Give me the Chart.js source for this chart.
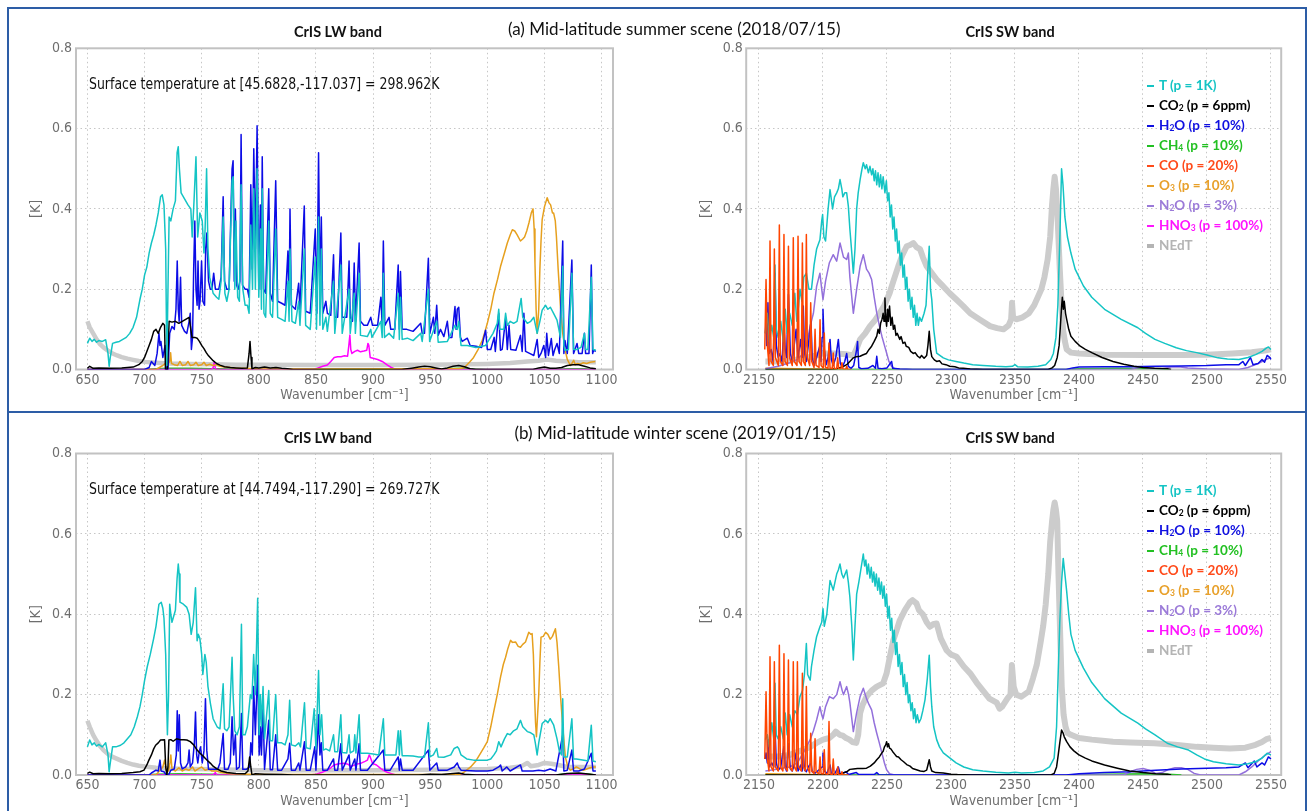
<!DOCTYPE html>
<html><head><meta charset="utf-8">
<script src="https://cdn.jsdelivr.net/npm/chart.js@4.4.1/dist/chart.umd.min.js"></script>
<style>
body{margin:0;background:#fff;width:1312px;height:811px;overflow:hidden;position:relative;font-family:'Liberation Sans',sans-serif}
.box{position:absolute;border:2px solid #2d5da6;box-sizing:border-box}
canvas{position:absolute}
.t{position:absolute;white-space:nowrap}
.ttl{font-family:Lato,'Open Sans',sans-serif;font-size:17px;color:#111;line-height:20px}
.band{font-family:Lato,'Open Sans',sans-serif;font-weight:bold;font-size:14.5px;color:#111;line-height:18px}
.ann{font-family:'Liberation Sans Narrow','DejaVu Sans Condensed','Liberation Sans',sans-serif;font-size:15px;color:#111;line-height:18px;transform:scaleX(0.926);transform-origin:0 50%}
.lg{font-family:Lato,'Open Sans',sans-serif;font-weight:bold;font-size:13.5px;line-height:20px}
.lg sub{font-size:8.5px;vertical-align:-1px;line-height:0}
.mk{display:inline-block;width:7px;height:2px;vertical-align:middle;margin-right:5px;position:relative;top:-1px}
</style>
</head><body>
<div class="box" style="left:7px;top:7px;width:1300px;height:406px"></div>
<div class="box" style="left:7px;top:411px;width:1300px;height:420px"></div>
<canvas id="c1" width="656" height="411" style="left:0;top:0"></canvas>
<canvas id="c2" width="650" height="411" style="left:656px;top:0"></canvas>
<canvas id="c3" width="656" height="400" style="left:0;top:411px"></canvas>
<canvas id="c4" width="650" height="400" style="left:656px;top:411px"></canvas>
<div id="txt"></div>
<script>
// ---------- categories / labels ----------
const seriesNames = ['T','CO2','H2O','CH4','CO','O3','N2O','HNO3','NEdT'];
const legendLabels = ['T (p = 1K)','CO<sub>2</sub> (p = 6ppm)','H<sub>2</sub>O (p = 10%)','CH<sub>4</sub> (p = 10%)','CO (p = 20%)','O<sub>3</sub> (p = 10%)','N<sub>2</sub>O (p = 3%)','HNO<sub>3</sub> (p = 100%)','NEdT'];
const seriesColors = ['#14c4c4','#000000','#0c0ce6','#2fbf2f','#ff4500','#e6a01e','#9370db','#ff00ff','#cccccc'];
const legendColors = ['#14c4c4','#000000','#1010e0','#22c022','#ff4a1a','#e8a02a','#9b7ad8','#ff14ff','#b4b4b4'];
const drawOrder = [1,2,3,7,0,5,4,6,8];
const lwTicks = [650,700,750,800,850,900,950,1000,1050,1100];
const swTicks = [2150,2200,2250,2300,2350,2400,2450,2500,2550];
const yTicks = [0,0.2,0.4,0.6,0.8];
const panelTitles = ['(a) Mid-latitude summer scene (2018/07/15)','(b) Mid-latitude winter scene (2019/01/15)'];
const surfaceNotes = ['Surface temperature at [45.6828,-117.037] = 298.962K','Surface temperature at [44.7494,-117.290] = 269.727K'];

// ---------- (a) summer, LW band ----------
const sLW_T = [[650,.065],[652,.078],[654,.07],[656,.075],[658,.068],[660,.072],[663,.07],[666,.074],[668,.04],[669,.008],[670,.03],[672,.065],[675,.068],[678,.07],[681,.075],[684,.08],[687,.09],[690,.105],[693,.13],[696,.175],[698,.2],[700,.235],[702,.255],[704,.29],[706,.315],[708,.335],[710,.36],[712,.39],[714,.43],[715.5,.435],[717,.41],[718.5,.3],[719.5,.01],[720.5,.2],[721.5,.38],[723,.37],[725,.4],[727,.42],[728.5,.54],[729.5,.555],[730.5,.5],[732,.44],[735,.425],[738,.41],[740.5,.4],[741.7,.33],[743.3,.42],[745,.53],[746.5,.33],[748.4,.39],[750.5,.37],[752,.29],[753,.35],[754.3,.5],[755.5,.3],[757,.23],[760,.19],[763,.18],[765,.175],[767,.22],[768.8,.38],[770.3,.19],[772,.17],[774,.2],[776.6,.47],[777.5,.48],[779,.2],[780,.37],[781.5,.18],[783,.17],[784.5,.46],[786,.2],[788,.16],[790,.16],[791.5,.14],[793,.36],[794.5,.2],[795.6,.45],[797,.2],[798.5,.5],[800,.18],[801.4,.35],[802.3,.15],[803,.45],[804.5,.14],[806,.13],[808.7,.37],[810,.14],[812,.13],[814.8,.35],[816.5,.13],[820,.125],[823,.12],[825.5,.22],[826.5,.12],[827.3,.3],[829,.12],[832,.115],[834.9,.17],[836,.11],[839.8,.3],[841,.11],[845,.1],[849.4,.28],[850.5,.1],[852.3,.38],[853.5,.11],[854.7,.3],[856,.1],[858.7,.13],[860,.095],[865.4,.22],[866.5,.09],[871.8,.26],[873,.09],[879,.2],[880,.09],[883.5,.19],[884.5,.09],[887.8,.24],[889,.085],[895,.082],[898,.1],[899,.08],[906.8,.12],[908,.08],[909,.24],[910,.08],[914,.09],[918,.078],[922,.19],[923,.075],[924,.18],[925.5,.075],[930,.078],[935,.072],[941.7,.09],[943,.07],[948.4,.2],[949.5,.07],[955.7,.12],[957,.068],[965,.07],[971.7,.11],[973.7,.1],[975,.12],[977,.06],[982.5,.06],[990,.055],[998.5,.06],[1002.8,.08],[1005,.09],[1008.7,.115],[1010,.15],[1011,.1],[1014.5,.1],[1016,.14],[1017.5,.11],[1020,.12],[1023,.115],[1026,.12],[1029.6,.177],[1031,.13],[1035,.115],[1038,.12],[1040.7,.13],[1043.6,.09],[1046,.12],[1048,.148],[1051,.16],[1053,.15],[1055.2,.155],[1058,.14],[1061,.123],[1064,.08],[1066,.257],[1067,.06],[1068,.048],[1071,.05],[1074,.24],[1075.5,.05],[1078.5,.05],[1082,.055],[1085,.09],[1086,.05],[1088,.05],[1091,.23],[1092.5,.05],[1095,.048]];
const sLW_CO2 = [[650,.003],[652,.008],[655,.003],[660,.004],[670,.003],[680,.004],[690,.006],[695,.012],[698,.02],[700,.03],[702,.045],[704,.06],[706,.075],[708,.095],[710,.1],[712,.09],[714,.105],[716,.115],[717.5,.11],[718.3,0],[720,0],[721.5,.12],[724,.118],[727,.12],[730,.115],[733,.12],[736,.125],[739,.13],[740.5,.1],[741.5,.08],[744,.08],[746,.078],[748,.07],[750,.06],[752,.052],[754,.042],[756,.034],[758,.028],[760,.022],[763,.015],[766,.011],[770,.007],[775,.005],[780,.004],[785,.003],[790,.004],[791.5,.04],[792.3,.07],[793.2,.03],[794,.002],[797,.005],[800,.004],[805,.006],[810,.004],[815,.005],[820,.003],[825,.002],[830,0],[925,0],[930,.002],[935,.004],[940,.006],[945,.008],[950,.007],[955,.004],[960,.001],[965,.004],[970,.008],[975,.01],[980,.007],[985,.002],[990,0],[1040,0],[1045,.004],[1050,.006],[1055,.003],[1060,.003],[1065,.005],[1070,.01],[1075,.012],[1080,.012],[1085,.008],[1090,.004],[1095,.002]];
const sLW_H2O = [[650,0],[700,0],[704,.005],[706,.02],[709,.01],[711,.04],[712.6,.09],[713.5,.06],[714.3,.07],[716,.03],[718,.06],[719,0],[720.5,0],[722,.09],[724,.107],[726,.1],[727.5,.15],[728.6,.27],[729.5,.15],[730.3,.12],[731.5,.23],[732.5,.11],[735,.095],[737,.09],[739,.12],[740,.14],[741,.05],[742,.08],[743,.25],[744,.37],[745,.2],[746,.16],[746.8,.27],[747.7,.15],[748.6,.17],[749.9,.27],[751,.17],[752.5,.16],[753.5,.3],[754.5,.34],[756,.22],[757.5,.2],[759,.2],[760.5,.24],[762,.2],[765,.2],[767,.23],[768.8,.43],[770,.22],[772,.2],[774,.2],[775.5,.38],[776.6,.5],[777.5,.52],[778.5,.22],[779.5,.4],[780.5,.21],[782,.2],[783.5,.22],[784.5,.585],[785.7,.21],[788,.2],[790,.2],[791.5,.18],[793,.46],[794.3,.25],[795.6,.55],[797,.3],[798.5,.607],[800,.2],[801.4,.41],[802.2,.2],[803,.53],[804.2,.2],[806,.19],[808.7,.45],[810,.19],[812,.17],[814.8,.47],[816.5,.17],[820,.165],[823,.16],[825.5,.295],[826.5,.16],[827.3,.4],[828.5,.16],[832,.15],[834.9,.215],[836,.15],[839.8,.407],[841,.145],[845,.14],[849.4,.35],[850.8,.14],[852.3,.54],[853.5,.2],[854.7,.38],[856,.14],[858.7,.17],[860,.14],[863,.135],[865.4,.286],[866.5,.13],[869,.13],[871.8,.34],[873,.13],[877,.13],[879,.27],[880,.13],[882,.12],[883.5,.265],[884.7,.12],[887.8,.315],[889,.12],[892,.11],[895,.11],[898,.13],[899.5,.11],[904,.11],[906.8,.18],[908,.11],[909,.32],[910.3,.11],[914,.13],[915.5,.1],[919,.1],[922,.26],[923,.1],[924,.244],[925.5,.1],[929.5,.1],[935,.095],[941.7,.115],[943,.09],[945,.09],[948.4,.277],[949.7,.09],[952.8,.13],[954,.09],[955.7,.16],[957,.085],[959,.1],[962,.082],[965,.12],[966.5,.08],[969,.08],[971.7,.157],[972.7,.1],[973.7,.15],[975,.155],[976.5,.08],[978,.07],[982.5,.078],[985,.06],[990,.058],[995,.055],[998.5,.098],[1000,.05],[1003,.05],[1006,.08],[1007,.045],[1010,.14],[1011.5,.048],[1013,.05],[1016,.127],[1017.5,.05],[1019,.11],[1020.5,.05],[1025,.048],[1029,.085],[1030.5,.045],[1032,.14],[1033.5,.045],[1037,.04],[1040.7,.035],[1043.6,.075],[1045,.03],[1047,.04],[1049.4,.06],[1051,.03],[1052,.09],[1053.5,.035],[1056,.077],[1057.5,.035],[1059,.05],[1061,.065],[1063,.04],[1066,.32],[1067,.04],[1068,.072],[1070,.04],[1074,.273],[1075.5,.04],[1078.5,.065],[1080,.04],[1083,.04],[1085,.09],[1086,.04],[1089,.04],[1091,.26],[1092.2,.04],[1093,.048],[1095,.045]];
const sLW_CH4 = [[650,0],[700,0],[710,.002],[720,.003],[740,.003],[760,.002],[780,.001],[800,0],[950,0],[960,.002],[975,.003],[990,.001],[1000,0],[1060,0],[1070,.002],[1085,.002],[1095,0]];
const sLW_CO = [];
const sLW_O3 = [[650,0],[710,0],[713,.005],[716,.01],[718,.015],[720,.012],[722,.02],[722.8,.042],[723.6,.015],[726,.012],[729,.01],[731,.02],[733,.01],[736,.012],[738,.02],[740,.01],[743,.012],[745,.018],[747,.01],[750,.012],[752,.018],[754,.01],[757,.013],[760,.01],[763,.012],[766,.008],[770,.006],[780,.004],[800,.002],[850,.001],[950,.002],[975,.002],[980,.005],[985,.02],[988,.03],[992,.05],[995.6,.073],[998,.095],[1000,.115],[1003,.15],[1005.8,.19],[1009,.225],[1011.6,.257],[1015,.29],[1017.5,.315],[1020,.335],[1021.9,.348],[1024,.345],[1026,.336],[1029,.32],[1031,.325],[1032.6,.33],[1034.5,.345],[1036.4,.365],[1038.5,.39],[1040,.4],[1041,.35],[1041.7,.265],[1042.7,.15],[1043.7,.09],[1045,.15],[1046,.25],[1047,.32],[1048,.373],[1050,.405],[1052.4,.428],[1054,.415],[1055.4,.41],[1057,.39],[1058,.39],[1059.5,.37],[1060.5,.33],[1062,.25],[1064,.157],[1066,.09],[1068,.05],[1070,.025],[1072.7,.01],[1074,.015],[1075.6,.023],[1077,.012],[1079,.015],[1081.4,.013],[1084,.017],[1087,.015],[1090,.018],[1094.5,.02]];
const sLW_N2O = [];
const sLW_HNO3 = [[650,0],[758,0],[760,.004],[761,.018],[762,.002],[764,0],[848,0],[852,.004],[856,.008],[860,.011],[863,.02],[866,.03],[869,.032],[872,.032],[875,.034],[877.7,.033],[878.8,.06],[879.7,.086],[880.5,.05],[881.5,.04],[884,.045],[886.4,.048],[889,.044],[892,.046],[894.5,.048],[895.5,.065],[896.3,.06],[897.5,.03],[900,.028],[904,.025],[908,.02],[912.6,.011],[916,.005],[920,0],[1095,0]];
const sLW_NEdT = [[650,.12],[652,.105],[655,.09],[658,.075],[661,.063],[664,.055],[668,.047],[672,.04],[676,.035],[680,.031],[685,.027],[690,.024],[695,.021],[700,.019],[710,.017],[720,.015],[740,.014],[760,.013],[780,.012],[800,.012],[850,.011],[900,.011],[950,.012],[1000,.014],[1020,.016],[1035,.02],[1045,.022],[1052,.025],[1060,.022],[1070,.02],[1080,.018],[1095,.018]];

// ---------- (b) winter, LW band ----------
const wLW_T = [[650,.07],[652,.087],[654,.075],[656,.08],[658,.072],[660,.076],[663,.07],[666,.08],[668,.05],[669,.008],[670,.03],[672,.07],[675,.07],[679,.074],[682,.08],[685,.09],[688,.1],[691,.12],[693.7,.145],[696,.17],[698,.2],[700,.235],[702.4,.27],[705,.3],[708,.34],[710,.37],[712.6,.425],[714.6,.43],[716,.415],[717,.39],[718.5,.3],[720,.1],[721,.2],[722,.425],[723,.4],[724,.38],[727,.41],[728.5,.49],[729.5,.525],[730.3,.5],[731,.43],[734,.425],[737,.417],[739,.4],[740.8,.35],[742.6,.38],[743.5,.42],[744.6,.466],[746,.334],[747,.35],[748.4,.34],[750,.3],[751,.25],[752.8,.3],[754,.28],[755.5,.22],[757.7,.177],[760,.14],[763.5,.12],[766,.115],[768.8,.227],[770,.115],[772,.11],[774,.12],[776.6,.293],[777.5,.2],[779,.11],[781,.1],[783,.12],[784.8,.375],[786,.1],[788,.1],[790,.12],[792.6,.2],[794,.19],[795.5,.3],[797,.2],[799,.44],[800.3,.1],[801.4,.2],[802.3,.12],[803.7,.22],[805,.09],[808.7,.21],[810,.085],[812,.085],[814.8,.2],[816.5,.08],[820,.08],[823,.075],[825.5,.1],[827,.186],[828.5,.075],[832,.072],[835,.08],[836.5,.07],[840,.18],[841.5,.068],[845,.065],[848.5,.165],[850,.065],[852.3,.26],[853.5,.1],[855,.15],[856.5,.062],[858.7,.065],[862,.06],[865.4,.1],[866.5,.058],[869,.058],[871.8,.15],[873,.056],[877,.055],[879,.1],[880,.055],[883,.06],[884,.1],[885,.055],[887.8,.15],[889,.054],[895,.054],[900,.052],[905,.05],[909,.14],[910.3,.05],[915,.05],[920,.05],[922,.11],[923,.05],[924,.11],[925.5,.048],[930,.048],[935,.047],[940,.045],[945,.045],[948.4,.13],[949.7,.045],[952.8,.05],[955.7,.066],[957,.045],[962,.044],[968,.05],[971,.066],[973.7,.07],[975,.066],[977,.05],[982,.04],[988,.037],[995,.037],[1000,.037],[1003,.04],[1005.8,.05],[1008,.06],[1010,.083],[1012,.07],[1015,.09],[1017.5,.103],[1020,.1],[1023,.11],[1026,.115],[1029,.136],[1031,.12],[1035,.108],[1038,.105],[1040.7,.1],[1042,.08],[1043.6,.05],[1045,.08],[1048,.128],[1051,.136],[1053,.13],[1055,.14],[1058,.125],[1061,.09],[1063,.06],[1065,.05],[1066,.19],[1067,.045],[1070,.045],[1074,.14],[1075.5,.04],[1078,.04],[1082,.038],[1086,.036],[1088,.035],[1091,.124],[1092.5,.035],[1095,.033]];
const wLW_CO2 = [[650,.004],[652,.007],[655,.003],[660,.004],[670,.003],[680,.004],[690,.006],[696,.008],[699.5,.012],[702,.025],[703.8,.037],[706,.05],[708,.065],[709.7,.074],[712,.08],[714,.087],[717.5,.088],[718.5,.02],[719.5,0],[720.5,.02],[721.3,.087],[723,.088],[725,.084],[728,.09],[731,.088],[734.4,.088],[737,.087],[740,.083],[743,.075],[746,.062],[749,.053],[752,.045],[755,.036],[757.7,.029],[760,.022],[763,.016],[767,.01],[772,.006],[780,.004],[788,.003],[790.5,.01],[792,.045],[793,.02],[794,0],[797,.003],[805,.002],[820,.001],[830,0],[940,0],[950,.002],[960,.001],[970,.004],[975,.005],[980,.002],[990,0],[1060,0],[1070,.004],[1080,.005],[1090,.002],[1095,0]];
const wLW_H2O = [[650,0],[704,0],[706,.005],[710,.012],[712,.01],[713.5,.037],[714.5,.01],[717,.008],[719,0],[721,0],[723,.012],[726,.015],[727.8,.05],[728.6,.16],[729.5,.06],[730.4,.15],[731.5,.03],[733,.015],[736,.02],[738,.03],[739,.062],[740,.02],[742,.03],[743.6,.08],[744.6,.157],[745.6,.05],[746.6,.03],[748,.06],[749,.07],[750.5,.03],[752,.06],[753.3,.19],[754.5,.06],[756,.014],[760,.014],[764,.014],[766,.03],[768.8,.103],[770,.014],[773,.014],[775,.03],[776.6,.145],[778,.05],[779.5,.1],[780.5,.014],[783,.02],[784.8,.153],[786,.014],[789,.014],[792,.02],[793,.08],[794.3,.05],[795.5,.22],[797,.1],[799,.273],[800.3,.05],[801.4,.12],[802.3,.05],[803.7,.178],[805,.014],[808.7,.136],[810,.013],[812,.013],[814.8,.1],[816.5,.012],[820,.012],[825.5,.04],[827,.079],[828.5,.012],[832,.012],[834.9,.03],[836,.012],[840,.083],[841.5,.012],[845,.012],[849,.07],[850,.012],[852.3,.15],[853.5,.05],[854.7,.08],[856,.012],[860,.012],[865.4,.04],[866.5,.012],[869,.012],[871.8,.078],[873,.012],[879,.05],[880,.012],[884,.04],[885,.012],[887.8,.078],[889,.012],[895,.012],[909,.062],[910.3,.012],[915,.012],[922,.045],[923,.012],[924,.04],[925.5,.012],[935,.012],[948.4,.062],[949.7,.012],[955.7,.03],[957,.012],[965,.012],[971,.02],[973.7,.03],[975,.02],[977,.012],[990,.01],[1000,.01],[1005,.012],[1010,.02],[1011.6,.025],[1013,.01],[1017,.02],[1020,.01],[1029,.025],[1030.5,.01],[1040,.01],[1045,.012],[1050,.01],[1055,.015],[1060,.01],[1066,.1],[1067,.01],[1070,.012],[1074,.062],[1075.5,.01],[1080,.01],[1085,.015],[1091,.054],[1092.5,.01],[1095,.01]];
const wLW_CH4 = [[650,0],[700,0],[710,.002],[730,.003],[760,.002],[780,0],[1060,0],[1070,.003],[1085,.003],[1095,0]];
const wLW_CO = [];
const wLW_O3 = [[650,0],[710,0],[713,.01],[716,.02],[717.5,.037],[719,.015],[721,.01],[722.2,.03],[723,.05],[724,.015],[727,.01],[730,.018],[733,.01],[736,.015],[739,.012],[742,.02],[744,.01],[747,.015],[750,.02],[753,.012],[756,.015],[759,.01],[763,.01],[767,.006],[775,.003],[800,.001],[970,.001],[976.6,.002],[980,.008],[985.4,.02],[990,.035],[994,.054],[997,.068],[1000,.083],[1003,.12],[1005.8,.16],[1008.7,.2],[1011.6,.244],[1014,.275],[1016,.293],[1018,.315],[1020.3,.335],[1022,.33],[1024.7,.331],[1027,.32],[1029,.318],[1031,.325],[1033.4,.331],[1036.3,.355],[1038,.35],[1039.2,.352],[1040.3,.3],[1041.3,.2],[1042.2,.13],[1043,.095],[1044,.15],[1045,.2],[1046,.28],[1047,.343],[1049,.345],[1051,.355],[1053,.35],[1055,.338],[1057,.345],[1059.6,.364],[1061,.33],[1062.5,.27],[1064,.2],[1066,.12],[1068.3,.045],[1070.5,.02],[1072.7,.012],[1075,.015],[1078,.02],[1081,.015],[1084,.012],[1087,.015],[1090,.018],[1093,.02],[1095,.02]];
const wLW_N2O = [];
const wLW_HNO3 = [[650,0],[760,0],[762,.006],[763,0],[845,0],[850,.002],[855,.006],[860,.012],[863,.018],[866,.025],[870,.028],[874.7,.029],[878,.027],[880.6,.021],[883,.024],[886,.027],[890,.03],[893,.034],[895,.037],[896.6,.05],[897.5,.045],[899.5,.029],[903,.025],[906.8,.016],[910,.01],[913,.006],[915.5,.004],[920,0],[1095,0]];
const wLW_NEdT = [[650,.135],[652,.12],[655,.1],[658,.085],[661,.072],[664,.062],[668,.052],[672,.045],[676,.04],[680,.035],[685,.03],[690,.026],[695,.023],[700,.021],[710,.018],[720,.016],[740,.015],[760,.014],[780,.013],[800,.012],[850,.012],[900,.012],[950,.013],[1000,.015],[1020,.018],[1030,.022],[1035,.03],[1038,.022],[1045,.025],[1050,.03],[1056,.028],[1062,.025],[1070,.02],[1080,.02],[1095,.02]];

// ---------- (a) summer, SW band ----------
const sSW_T = [[2155,.09],[2156.5,.14],[2158,.07],[2160,.11],[2161.5,.08],[2162.5,.26],[2163.5,.1],[2165,.08],[2167,.12],[2169,.07],[2170.5,.15],[2172,.09],[2174,.14],[2176,.11],[2178,.19],[2179.5,.12],[2181,.16],[2182,.2],[2183.5,.17],[2185,.23],[2187,.24],[2189,.2],[2191,.2],[2193,.26],[2195,.3],[2197.6,.323],[2199,.37],[2199.7,.386],[2200.7,.33],[2202,.32],[2204,.4],[2205.5,.448],[2207.5,.4],[2209,.43],[2210.7,.44],[2212,.45],[2213.3,.473],[2214.7,.45],[2215.5,.43],[2217,.44],[2218.5,.44],[2219.8,.407],[2221,.35],[2222.5,.29],[2223.7,.24],[2225,.3],[2226.3,.4],[2227.5,.44],[2229,.473],[2230.5,.5],[2231.5,.515],[2233,.5],[2234,.51],[2235.5,.49],[2236.7,.506],[2238,.485],[2239,.5],[2240,.47],[2241,.495],[2242,.46],[2243,.49],[2244,.455],[2245,.485],[2246,.45],[2247,.48],[2248.4,.44],[2249.5,.47],[2250.5,.42],[2251.5,.44],[2252.5,.38],[2253.5,.41],[2254.5,.35],[2255.5,.38],[2256.5,.32],[2257.5,.35],[2258.5,.29],[2259.5,.32],[2260.5,.26],[2261.5,.29],[2262.5,.23],[2263.5,.26],[2264.5,.2],[2265.5,.23],[2266.5,.17],[2267.5,.2],[2268.5,.15],[2269.5,.18],[2270.5,.13],[2271.5,.16],[2272.5,.11],[2273.5,.14],[2274.5,.11],[2275.5,.13],[2277,.12],[2279,.14],[2280.5,.16],[2282,.25],[2283,.307],[2284,.2],[2285,.174],[2286.5,.1],[2288.8,.041],[2291,.036],[2294,.029],[2298,.024],[2304,.02],[2310,.016],[2317,.012],[2325,.01],[2335,.008],[2343,.007],[2348,.008],[2350,.012],[2352,.007],[2360,.006],[2368,.008],[2374,.012],[2378,.025],[2380,.04],[2382,.08],[2383.5,.16],[2385,.32],[2386.4,.5],[2387.5,.46],[2389,.38],[2391,.33],[2393.7,.29],[2397,.25],[2403.5,.208],[2410,.18],[2420,.15],[2433,.125],[2446,.104],[2452,.09],[2459.4,.075],[2467,.065],[2476,.054],[2484,.047],[2492,.042],[2500,.036],[2508.6,.029],[2516,.026],[2525,.025],[2532,.03],[2538,.037],[2543,.045],[2546.6,.054],[2548,.056],[2550,.05]];
const sSW_CO2 = [[2155,0],[2205,0],[2210.7,.002],[2215,.006],[2218.5,.012],[2221,.02],[2223.7,.029],[2226,.032],[2229,.033],[2231,.036],[2234,.04],[2236,.05],[2238,.058],[2240,.07],[2242,.083],[2243,.1],[2244,.09],[2245,.115],[2246,.124],[2247,.14],[2247.7,.12],[2248.4,.178],[2249,.13],[2249.7,.108],[2250.5,.15],[2251,.12],[2252,.158],[2253,.11],[2254,.13],[2255,.1],[2256,.11],[2257,.085],[2258,.09],[2260,.075],[2261,.082],[2262.5,.065],[2264,.068],[2265,.058],[2267,.055],[2268.5,.045],[2270.5,.04],[2272,.042],[2274,.033],[2275.8,.029],[2277,.035],[2279,.028],[2281,.035],[2282,.06],[2283,.095],[2284,.05],[2285,.032],[2287,.024],[2288.8,.02],[2291,.022],[2293,.014],[2296,.012],[2299,.008],[2303,.007],[2306,.004],[2309.6,.003],[2315,.001],[2325,0],[2376,0],[2379,.004],[2381,.01],[2383,.03],[2384.5,.06],[2385.5,.11],[2386.5,.16],[2387,.18],[2387.8,.15],[2388.5,.17],[2389.5,.14],[2390.4,.125],[2392,.1],[2393.7,.083],[2397,.07],[2401,.058],[2405,.05],[2410,.042],[2418,.03],[2426.6,.02],[2435,.013],[2443,.008],[2450,.005],[2459,.003],[2469,.002],[2472,0]];
const sSW_H2O = [[2155,.09],[2155.5,.12],[2156,.06],[2157,.166],[2158,.04],[2159.5,.05],[2161,.02],[2162,.11],[2162.5,.24],[2163.5,.06],[2165,.03],[2166.4,.04],[2168,.02],[2169.5,.108],[2170.5,.05],[2171.5,.03],[2173,.187],[2174.5,.04],[2176,.02],[2177.5,.06],[2179,.1],[2180.5,.03],[2182.6,.075],[2183.7,.03],[2184.6,.158],[2185.6,.04],[2187,.02],[2188.5,.06],[2190.6,.12],[2191.6,.03],[2193,.01],[2195,.03],[2197.6,.06],[2198.5,.02],[2199.3,.08],[2200,.15],[2201,.05],[2202.5,.012],[2204,.03],[2205.5,.075],[2206.5,.025],[2208,.01],[2210,.03],[2212,.075],[2213.5,.015],[2215,.005],[2217,.02],[2218.5,.04],[2219.8,.008],[2222,.003],[2224,.01],[2226.3,.05],[2227,.07],[2228,.005],[2230,.002],[2235,.003],[2239,.01],[2241,.003],[2242,.033],[2243,.003],[2246,.002],[2250,.004],[2253.6,.02],[2254.5,.003],[2260,.001],[2270,0],[2390,0],[2395,.004],[2400,.006],[2420,.007],[2440,.007],[2460,.008],[2480,.009],[2500,.01],[2515,.012],[2525,.012],[2528,.02],[2530,.01],[2534,.03],[2536,.012],[2540,.015],[2543,.025],[2545,.018],[2547,.035],[2549,.03],[2550,.025]];
const sSW_CH4 = [[2155,0],[2390,0],[2400,.002],[2430,.003],[2460,.002],[2470,0]];
const sSW_CO = [[2154.5,.05],[2155.5,.224],[2156.5,.06],[2157.8,.01],[2158.6,.32],[2159.4,.02],[2161.2,.01],[2162,.3],[2162.8,.03],[2165.1,.01],[2165.9,.36],[2166.7,.02],[2168.7,.01],[2169.5,.336],[2170.3,.02],[2172.2,.01],[2173,.307],[2173.8,.03],[2176,.01],[2176.8,.328],[2177.6,.02],[2179.7,.01],[2180.5,.332],[2181.3,.02],[2183.1,.01],[2183.9,.315],[2184.7,.02],[2186.2,.01],[2187,.336],[2187.8,.03],[2189.6,.01],[2190.4,.166],[2191.2,.02],[2193,.005],[2193.8,.1],[2194.6,.01],[2196.9,.005],[2197.7,.124],[2198.5,.01],[2200.2,.004],[2201,.091],[2201.8,.006],[2203.9,.003],[2204.7,.066],[2205.5,.004],[2207.2,.002],[2208,.041],[2208.8,.003],[2210.7,.002],[2211.5,.029],[2212.3,.002],[2214,.001],[2214.8,.017],[2215.6,.001],[2217.7,0],[2218.5,.008],[2219.3,0],[2222,0]];
const sSW_O3 = [[2155,.003],[2180,.002],[2210,0]];
const sSW_N2O = [[2155,.002],[2165,.008],[2174,.017],[2180,.025],[2184.6,.04],[2187,.06],[2190,.108],[2192.5,.14],[2195,.207],[2197.6,.24],[2199,.2],[2200,.174],[2202,.22],[2205,.266],[2208,.286],[2210.7,.27],[2213.3,.315],[2216,.28],[2218.5,.274],[2219.8,.29],[2221,.23],[2223.7,.14],[2226.3,.2],[2229,.257],[2231.5,.286],[2234,.25],[2236,.24],[2238,.224],[2240,.18],[2242,.141],[2244,.11],[2246,.083],[2248,.06],[2249.7,.041],[2251.5,.02],[2253.6,.008],[2256,.002],[2260,0],[2440,0],[2445,.004],[2450,.006],[2455,.003],[2465,.002],[2472,.006],[2478,.007],[2485,.004],[2500,.001],[2525,0],[2532,.005],[2540,.015],[2546,.025],[2550,.03]];
const sSW_HNO3 = [];
const sSW_NEdT = [[2155,.02],[2165,.02],[2175,.022],[2185,.028],[2195,.035],[2200,.04],[2210,.04],[2218,.038],[2223.7,.035],[2226,.05],[2229,.075],[2233,.09],[2236.7,.108],[2240,.12],[2244.5,.141],[2248,.16],[2252,.19],[2255,.22],[2258.8,.257],[2262,.285],[2265.4,.307],[2268,.31],[2270.6,.315],[2273,.305],[2275.8,.3],[2278,.28],[2281,.257],[2285,.24],[2288.8,.224],[2293,.21],[2299,.19],[2304,.175],[2309.6,.158],[2315,.14],[2322.7,.124],[2330.5,.108],[2336,.103],[2341,.1],[2345,.11],[2347,.125],[2347.7,.166],[2348.5,.13],[2351,.125],[2356,.13],[2360.8,.14],[2365,.16],[2370.6,.2],[2373,.23],[2375.5,.274],[2377.5,.33],[2378.9,.407],[2380,.45],[2381,.48],[2382,.45],[2383,.4],[2383.8,.34],[2385,.25],[2386.4,.16],[2387.5,.1],[2389,.07],[2390.4,.05],[2393.7,.042],[2400,.04],[2420,.037],[2450,.036],[2480,.036],[2500,.037],[2520,.04],[2535,.043],[2545,.047],[2550,.05]];

// ---------- (b) winter, SW band ----------
const wSW_T = [[2155,.088],[2156.5,.1],[2158,.07],[2160,.13],[2161.5,.09],[2162.5,.228],[2163.5,.1],[2165,.09],[2167,.12],[2169,.09],[2170.5,.154],[2172,.1],[2174,.15],[2176,.12],[2178,.16],[2180,.15],[2182,.195],[2184,.21],[2185.5,.25],[2187,.327],[2188,.25],[2190,.236],[2191,.27],[2193,.31],[2195,.344],[2197.6,.369],[2199,.38],[2200,.414],[2201,.37],[2203,.4],[2205.5,.484],[2208,.46],[2210.7,.5],[2212,.51],[2213.3,.525],[2214.7,.5],[2216,.49],[2218.5,.51],[2219.8,.48],[2221,.443],[2222.5,.37],[2223.7,.286],[2225,.37],[2226.3,.45],[2228,.48],[2229,.5],[2230.5,.53],[2231.5,.55],[2232.5,.52],[2233.5,.535],[2234.5,.5],[2235.5,.525],[2236.7,.49],[2237.7,.517],[2238.7,.48],[2239.7,.505],[2240.7,.47],[2241.7,.5],[2242.7,.46],[2243.7,.49],[2244.7,.45],[2245.7,.48],[2246.7,.44],[2247.7,.47],[2248.7,.42],[2249.7,.45],[2250.7,.39],[2251.7,.42],[2252.7,.36],[2253.7,.39],[2254.7,.33],[2255.7,.36],[2256.7,.3],[2257.7,.33],[2258.7,.27],[2259.7,.3],[2260.7,.25],[2261.7,.28],[2262.7,.22],[2263.7,.25],[2264.7,.2],[2265.7,.23],[2266.7,.18],[2267.7,.2],[2268.7,.16],[2269.7,.18],[2270.7,.14],[2271.7,.165],[2272.7,.13],[2273.7,.15],[2275,.13],[2276.5,.14],[2278,.16],[2279.7,.187],[2281.5,.24],[2283,.298],[2284,.22],[2285,.17],[2286.5,.12],[2288.8,.088],[2291,.07],[2294,.055],[2298,.045],[2304,.03],[2310,.02],[2317,.013],[2325,.01],[2335,.007],[2345,.005],[2350,.007],[2355,.005],[2365,.006],[2372,.01],[2377,.02],[2380.6,.042],[2382.5,.12],[2383.8,.258],[2385,.38],[2386.4,.48],[2387.7,.539],[2389,.5],[2390.4,.457],[2392,.4],[2393.7,.35],[2397,.31],[2403.5,.266],[2410,.23],[2420,.19],[2433,.154],[2446,.129],[2452,.115],[2459.4,.1],[2469,.079],[2477,.07],[2485.6,.062],[2492,.05],[2498,.04],[2505,.033],[2515,.028],[2525,.025],[2532,.028],[2538,.033],[2543,.042],[2547,.054],[2550,.05]];
const wSW_CO2 = [[2155,0],[2210,0],[2215,.004],[2218.5,.008],[2221,.014],[2223.7,.015],[2227,.016],[2231,.016],[2234,.017],[2237,.022],[2240,.03],[2242,.038],[2244,.045],[2246,.055],[2247,.059],[2248,.07],[2249,.075],[2249.7,.083],[2250.5,.07],[2251.2,.078],[2252,.067],[2253,.065],[2254.5,.058],[2256,.052],[2257.5,.046],[2259,.045],[2261,.038],[2263,.033],[2265.4,.026],[2268,.022],[2270,.016],[2273,.013],[2276,.01],[2279,.009],[2281,.012],[2282,.025],[2283,.038],[2284,.02],[2285,.01],[2288,.006],[2294,.005],[2300,.002],[2305,.001],[2315,0],[2378,0],[2380.6,.004],[2382.5,.02],[2383.8,.05],[2385,.08],[2386.4,.112],[2387.5,.105],[2388.5,.095],[2390.4,.083],[2393,.07],[2396,.06],[2400,.05],[2405,.042],[2410,.035],[2420,.025],[2430,.017],[2439.6,.01],[2450,.006],[2460,.003],[2469,.002],[2472,0]];
const wSW_H2O = [[2155,.04],[2155.5,.055],[2156.5,.03],[2157,.088],[2158,.02],[2160,.03],[2161.5,.02],[2162.5,.12],[2163.5,.03],[2165,.012],[2167,.02],[2169.5,.071],[2170.5,.02],[2171.5,.01],[2173,.078],[2174.5,.015],[2176,.01],[2177.5,.025],[2179,.055],[2180.5,.01],[2182.6,.025],[2183.7,.01],[2184.6,.055],[2185.6,.012],[2187,.008],[2188.5,.02],[2190.6,.03],[2191.6,.008],[2194,.005],[2197.6,.015],[2199.3,.02],[2200,.055],[2201,.01],[2203,.004],[2205.5,.025],[2206.5,.004],[2209,.002],[2212,.02],[2213.5,.002],[2218,.008],[2220,.001],[2226,.006],[2228,.001],[2240,.001],[2242,.006],[2244,0],[2390,0],[2400,.003],[2420,.006],[2440,.008],[2460,.012],[2480,.015],[2500,.017],[2515,.018],[2525,.02],[2530,.03],[2532,.018],[2537,.035],[2539,.02],[2543,.03],[2545,.025],[2548,.045],[2550,.04]];
const wSW_CH4 = [[2155,0],[2400,0],[2420,.002],[2450,.003],[2470,.002],[2480,0]];
const wSW_CO = [[2154.5,.04],[2155.5,.207],[2156.5,.04],[2157.8,.01],[2158.6,.294],[2159.4,.02],[2161.2,.01],[2162,.282],[2162.8,.02],[2165.1,.01],[2165.9,.323],[2166.7,.02],[2168.7,.01],[2169.5,.302],[2170.3,.02],[2172.2,.01],[2173,.286],[2173.8,.02],[2176,.01],[2176.8,.282],[2177.6,.02],[2179.2,.01],[2180,.282],[2180.8,.02],[2183.1,.01],[2183.9,.253],[2184.7,.02],[2186.2,.01],[2187,.22],[2187.8,.02],[2189.6,.005],[2190.4,.104],[2191.2,.01],[2193,.004],[2193.8,.09],[2194.6,.008],[2196.9,.003],[2197.7,.045],[2198.5,.004],[2200.2,.003],[2201,.063],[2201.8,.003],[2203.9,.002],[2204.7,.133],[2205.5,.003],[2207.2,.001],[2208,.04],[2208.8,.002],[2210.7,.001],[2211.5,.02],[2212.3,.001],[2214,0],[2214.8,.008],[2215.6,0],[2220,0]];
const wSW_O3 = [[2155,.003],[2180,.002],[2210,0]];
const wSW_N2O = [[2155,.01],[2165,.015],[2174,.02],[2180,.03],[2184.6,.055],[2187,.07],[2190,.088],[2192.5,.11],[2195,.137],[2197.6,.17],[2199,.15],[2200,.14],[2202,.17],[2205,.195],[2208,.19],[2210.7,.2],[2213.3,.232],[2215,.21],[2216,.2],[2218.5,.22],[2220,.2],[2221,.18],[2223.7,.108],[2226.3,.155],[2229,.195],[2231.5,.216],[2234,.19],[2236,.175],[2238,.162],[2240,.13],[2242,.104],[2244,.08],[2246,.055],[2248,.03],[2249.7,.013],[2252,.003],[2256,0],[2435,0],[2440,.008],[2445,.014],[2450,.016],[2455,.012],[2460,.004],[2465,.006],[2470,.014],[2475,.018],[2480,.018],[2485,.014],[2490,.004],[2495,0],[2525,0],[2530,.008],[2535,.02],[2540,.035],[2545,.048],[2550,.058]];
const wSW_HNO3 = [];
const wSW_NEdT = [[2155,.046],[2165,.046],[2174,.05],[2184.5,.063],[2190,.07],[2195,.08],[2200,.088],[2205,.092],[2208,.1],[2210,.108],[2213,.1],[2215.5,.098],[2218,.092],[2220.7,.088],[2223,.082],[2226,.08],[2227.5,.1],[2229,.154],[2231,.175],[2234,.195],[2238,.21],[2242,.22],[2247,.228],[2249.7,.253],[2252,.29],[2255,.336],[2257.5,.36],[2260,.385],[2264,.41],[2268,.43],[2270,.435],[2273,.427],[2275,.41],[2278,.4],[2281,.38],[2283.6,.369],[2286,.375],[2288.8,.377],[2292,.34],[2296.6,.31],[2300,.3],[2304.4,.294],[2310,.27],[2315,.253],[2320,.23],[2325,.21],[2330,.19],[2335.7,.18],[2338,.165],[2340,.17],[2344,.19],[2346.5,.2],[2347.6,.274],[2349,.22],[2351,.2],[2355,.195],[2360.8,.208],[2364,.24],[2367,.274],[2370,.33],[2372,.37],[2374,.424],[2376,.5],[2377.5,.58],[2379,.632],[2380,.66],[2381,.678],[2382,.66],[2383,.632],[2384,.5],[2385.4,.34],[2386.5,.22],[2388,.15],[2389.5,.12],[2391,.105],[2393.7,.1],[2400,.092],[2410,.088],[2426.6,.083],[2440,.081],[2459,.079],[2475,.075],[2492,.07],[2505,.068],[2518,.066],[2530,.068],[2538,.075],[2543,.082],[2547,.09],[2550,.092]];

// ---------- build ----------
const TICKFONT = "'Liberation Sans Narrow','DejaVu Sans Condensed','Liberation Sans',sans-serif";
const GRAY = '#6e6e6e';
const framePlugin = {id:'frame', beforeDatasetsDraw(chart){
  const {ctx, chartArea:a} = chart;
  ctx.save(); ctx.strokeStyle='#c2c2c2'; ctx.lineWidth=2;
  ctx.strokeRect(a.left, a.top, a.right-a.left, a.bottom-a.top); ctx.restore();
}};

function makeDatasets(arrs, grayWidth){
  return seriesNames.map((n,i)=>({
    label:n,
    data: arrs[i].map(p=>({x:p[0], y:p[1]})),
    borderColor: seriesColors[i],
    backgroundColor: seriesColors[i],
    borderWidth: i===8 ? grayWidth : 1.5,
    pointRadius:0, fill:false, tension:0,
    borderJoinStyle:'round',
    order: drawOrder[i]
  }));
}

function makeChart(id, arrs, xmin, xmax, ticks, g){
  new Chart(document.getElementById(id), {
    type:'line',
    data:{datasets: makeDatasets(arrs, g.gw)},
    plugins:[framePlugin],
    options:{
      responsive:false, animation:false, events:[],
      layout:{padding:{left:0, top:g.top, right:g.right, bottom:0}},
      plugins:{legend:{display:false}, tooltip:{enabled:false}},
      scales:{
        x:{type:'linear', min:xmin, max:xmax,
          afterBuildTicks:s=>{ s.ticks = ticks.map(v=>({value:v})); },
          afterFit:s=>{ s.height = g.xh; },
          grid:{color:'#c6c6c6', lineWidth:1, drawTicks:false},
          border:{display:false, dash:[1.5,3]},
          ticks:{autoSkip:false, maxRotation:0, padding:2, color:GRAY, font:{family:TICKFONT, size:14}, callback:v=>String(v)},
          title:{display:true, text:'Wavenumber [cm⁻¹]', color:GRAY, font:{family:TICKFONT, size:14}, padding:{top:0, bottom:g.xtp}}
        },
        y:{type:'linear', min:0, max:0.8,
          afterBuildTicks:s=>{ s.ticks = yTicks.map(v=>({value:v})); },
          afterFit:s=>{ s.width = g.yw; },
          grid:{color:'#c6c6c6', lineWidth:1, drawTicks:false},
          border:{display:false, dash:[1.5,3]},
          ticks:{padding:g.ytp, color:GRAY, font:{family:TICKFONT, size:14}, callback:v=>Number(v).toFixed(1)},
          title:{display:true, text:'[K]', color:GRAY, font:{family:TICKFONT, size:14}, padding:{top:g.ytt, bottom:0}}
        }
      }
    }
  });
}

makeChart('c1', [sLW_T,sLW_CO2,sLW_H2O,sLW_CH4,sLW_CO,sLW_O3,sLW_N2O,sLW_HNO3,sLW_NEdT], 640, 1110, lwTicks,
  {top:48.3, right:43, xh:41.5, xtp:7.6, yw:76, ytp:4, ytt:27.6, gw:4.5});
makeChart('c2', [sSW_T,sSW_CO2,sSW_H2O,sSW_CH4,sSW_CO,sSW_O3,sSW_N2O,sSW_HNO3,sSW_NEdT], 2140, 2558, swTicks,
  {top:48.3, right:24.8, xh:41.5, xtp:7.6, yw:90.2, ytp:3.5, ytt:41.6, gw:6});
makeChart('c3', [wLW_T,wLW_CO2,wLW_H2O,wLW_CH4,wLW_CO,wLW_O3,wLW_N2O,wLW_HNO3,wLW_NEdT], 640, 1110, lwTicks,
  {top:42.5, right:43, xh:36, xtp:1.6, yw:76, ytp:4, ytt:27.6, gw:4.5});
makeChart('c4', [wSW_T,wSW_CO2,wSW_H2O,wSW_CH4,wSW_CO,wSW_O3,wSW_N2O,wSW_HNO3,wSW_NEdT], 2140, 2558, swTicks,
  {top:42.5, right:24.8, xh:36, xtp:1.6, yw:90.2, ytp:3.5, ytt:41.6, gw:6});

// ---------- text overlays ----------
const txt = document.getElementById('txt');
function addText(cls, html, x, y, anchor){
  const d = document.createElement('div');
  d.className = 't ' + cls; d.innerHTML = html;
  txt.appendChild(d);
  const w = d.offsetWidth, h = d.offsetHeight;
  d.style.left = (anchor==='c' ? x - w/2 : x) + 'px';
  d.style.top = (y - h/2) + 'px';
}
addText('ttl', panelTitles[0], 674, 29, 'c');
addText('ttl', panelTitles[1], 675, 433, 'c');
addText('band', 'CrIS LW band', 338, 32, 'c');
addText('band', 'CrIS LW band', 328, 438, 'c');
addText('band', 'CrIS SW band', 1010, 32, 'c');
addText('band', 'CrIS SW band', 1010, 438, 'c');
addText('ann', surfaceNotes[0], 89, 84, 'l');
addText('ann', surfaceNotes[1], 89, 489, 'l');
[0, 405].forEach(off=>{
  legendLabels.forEach((lab,i)=>{
    const mk = `<span class="mk" style="background:${legendColors[i]};${i===8?'height:4px;':''}"></span>`;
    addText('lg', mk + `<span style="color:${legendColors[i]}">${lab}</span>`, 1147, 85 + 20*i + off, 'l');
  });
});
</script>
</body></html>
